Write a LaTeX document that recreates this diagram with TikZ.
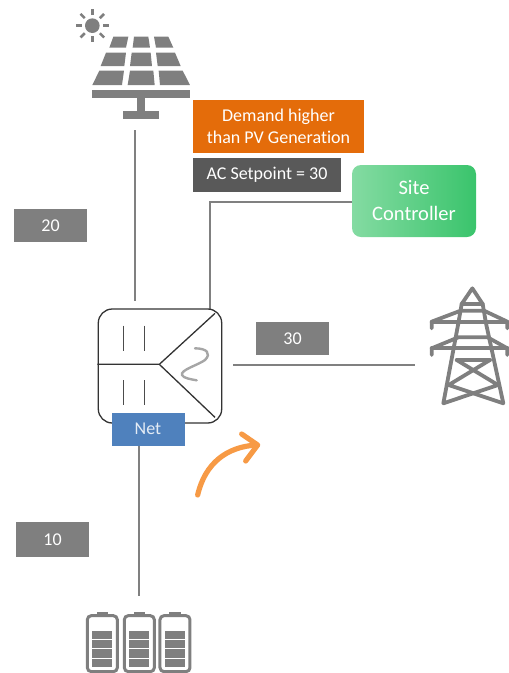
\documentclass[tikz,border=0pt]{standalone}
\usepackage{fontspec}
\setmainfont[Ligatures=NoCommon]{Carlito}
\usetikzlibrary{calc}
\definecolor{icongray}{HTML}{7F7F7F}
\definecolor{boxgray}{HTML}{7F7F7F}
\definecolor{darkbox}{HTML}{595959}
\definecolor{orangebox}{HTML}{E46C0A}
\definecolor{netblue}{HTML}{4F81BD}
\definecolor{arroworange}{HTML}{F79A45}
\definecolor{gl}{HTML}{84DBA2}
\definecolor{gr}{HTML}{3AC46C}
\definecolor{wire}{HTML}{808080}
\tikzset{
 lab/.style={inner sep=0pt,outer sep=0pt,text=white,align=center,font=\fontsize{18}{21.5}\selectfont},
 numbox/.style={lab,fill=boxgray,minimum width=73pt,minimum height=33pt,text=white},
 wireline/.style={draw=wire,line width=2.4pt},
 thin inv/.style={draw=black!80,line width=1.3pt},
 tower/.style={draw=icongray,line width=3.8pt,line join=round,line cap=round},
 batt/.style={draw=icongray,line width=3pt,rounded corners=4pt,fill=white}
}
\begin{document}
\begin{tikzpicture}[x=1pt,y=-1pt]
\useasboundingbox (0,0) rectangle (509,673);
% coordinates
\coordinate (pvfoot) at (135,130);
\coordinate (invtopl) at (135,301);
\coordinate (invtopr) at (210,309);
\coordinate (corner) at (210,201.7);
\coordinate (gridl) at (233,365);
\coordinate (gridr) at (415,365);
\coordinate (battop) at (139,596);
% solar
\begin{scope}[shift={(60,0)},scale=1/3]
 \fill[icongray] (97,77) circle (22);
 \foreach \a in {0,45,...,315}
  \draw[icongray,line width=2.5pt] ($(97,77)+(\a:32)$) -- ($(97,77)+(\a:50)$);
 \fill[icongray] (160,110)--(205,110)--(198,143)--(148,143)--cycle;
 \fill[icongray] (222,110)--(265,110)--(270,143)--(218,143)--cycle;
 \fill[icongray] (282,110)--(325,110)--(340,143)--(288,143)--cycle;
 \fill[icongray] (138,158)--(198,158)--(193,198)--(122,198)--cycle;
 \fill[icongray] (215,158)--(272,158)--(276,198)--(210,198)--cycle;
 \fill[icongray] (288,158)--(345,158)--(362,198)--(293,198)--cycle;
 \fill[icongray] (118,212)--(192,212)--(186,255)--(97,255)--cycle;
 \fill[icongray] (210,212)--(280,212)--(284,255)--(203,255)--cycle;
 \fill[icongray] (296,212)--(368,212)--(390,255)--(300,255)--cycle;
 \fill[icongray] (97,270) rectangle (390,295);
 \fill[icongray] (232,295) rectangle (255,332);
 \fill[icongray] (190,332) rectangle (298,356);
\end{scope}
% wires
\draw[wireline] (pvfoot) -- (invtopl);
\node[lab,minimum width=124pt,minimum height=72pt,rounded corners=9pt,left color=gl,right color=gr,font=\fontsize{20.5}{26}\selectfont] (ctrl) at (414,201) {Site\\Controller};
\draw[wireline] (ctrl.west |- corner) -- (corner) -- (invtopr);
\draw[wireline] (gridl) -- (gridr);
% text boxes
\node[lab,fill=orangebox,minimum width=171pt,minimum height=53pt] (demand) at (278.5,126.5) {Demand higher\\than PV Generation};
\node[lab,fill=darkbox,minimum width=148pt,minimum height=34pt] (setp) at (267,175) {AC Setpoint = 30};
\node[numbox] (n20) at (50.5,225.5) {20};
\node[numbox] (n30) at (292.5,338.5) {30};
\node[numbox,minimum height=35pt] (n10) at (52.5,539.5) {10};
% inverter
\draw[thin inv,rounded corners=14pt] (98.3,309) rectangle (221.7,423);
\begin{scope}[shift={(80,290)},scale=1/3]
 \coordinate (mid) at (238,223);
 \draw[thin inv] (52,223) -- (mid) -- (405,70);
 \draw[thin inv] (mid) -- (405,382);
 \draw[thin inv,draw=black!70] (131,107) -- (131,183) (193,107) -- (193,183) (131,270) -- (131,345) (193,270) -- (193,345);
 \draw[draw=black!35,line width=2.4pt,line cap=round] (345,175) .. controls (380,175) and (395,190) .. (375,210) .. controls (355,225) and (300,240) .. (306,255) .. controls (310,265) and (335,268) .. (350,271);
\end{scope}
\node[lab,fill=netblue,minimum width=73pt,minimum height=33pt,text=white!85!netblue] (net) at (148,429) {Net};
\draw[wireline] (net.south -| battop) -- (battop);
% orange arrow
\begin{scope}[shift={(80,290)},scale=1/3]
 \draw[arroworange,line width=5.2pt,line cap=round,line join=round] (353,615) .. controls (375,520) and (440,470) .. (530,465);
 \draw[arroworange,line width=5.2pt,line cap=round,line join=round] (485,432) -- (533,465) -- (497,513);
\end{scope}
% tower
\begin{scope}[shift={(410,280)},scale=1/3]
 \draw[tower] (100,370) -- (145,130) -- (155,72) -- (187,25) -- (218,72) -- (228,130) -- (280,370);
 \draw[tower] (155,72) -- (218,72);
 \draw[tower] (65,145) -- (65,125) -- (152,92) -- (222,92) -- (292,125) -- (292,145);
 \draw[tower] (65,125) -- (292,125);
 \draw[tower] (65,225) -- (65,205) -- (145,172) -- (233,172) -- (292,205) -- (292,225);
 \draw[tower] (65,205) -- (292,205);
 \draw[tower] (140,240) -- (240,240);
 \draw[tower] (140,240) -- (264,315) -- (100,370);
 \draw[tower] (240,240) -- (116,315) -- (280,370);
\end{scope}
% batteries
\begin{scope}[shift={(70,600)},scale=1/3]
 \foreach \x in {52,163,270}{
  \fill[icongray] (\x+28,37) rectangle (\x+63,50);
  \draw[batt] (\x,47) rectangle (\x+90,215);
  \foreach \y/\yy in {92/117,120/145,148/174,176/201}
   \fill[icongray] (\x+15,\y) rectangle (\x+75,\yy);
 }
\end{scope}
\end{tikzpicture}
\end{document}
